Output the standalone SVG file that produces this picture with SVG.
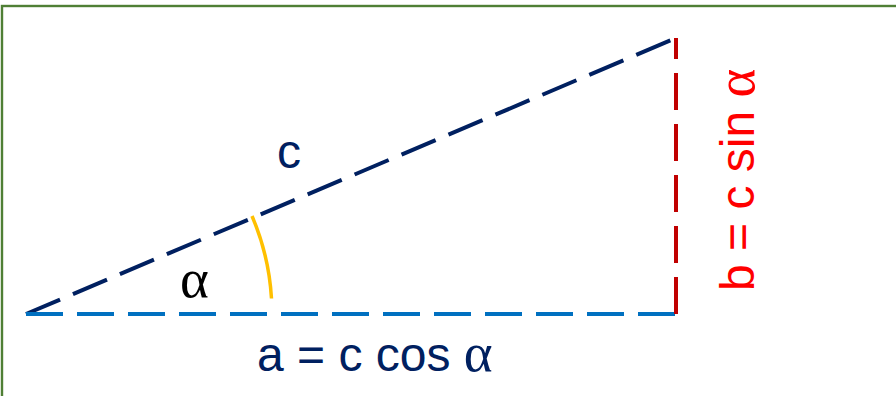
<svg xmlns="http://www.w3.org/2000/svg" width="896" height="396" viewBox="0 0 896 396">
  <style>
    .lbl { font-family: "Liberation Sans", Arial, sans-serif; font-size: 48px; }
    .greek { font-family: "Liberation Serif", "Times New Roman", serif; font-size: 55px; }
    .side { fill: none; stroke-width: 4; stroke-dasharray: 37 14; }
  </style>
  <rect id="frame" x="2" y="6" width="1000" height="1000" fill="#ffffff" stroke="#4f7f35" stroke-width="2.4"/>
  <g id="connectors">
    <path id="hypotenuse" class="side" d="M26,314 L676,38" stroke="#002060"/>
    <path id="base" class="side" d="M26,314 L676,314" stroke="#0070c0"/>
    <path id="height" class="side" d="M676,314 L676,38" stroke="#c00000"/>
    <path id="angle-arc" d="M252,216 A246.5 246.5 0 0 1 271.5,298.5" fill="none" stroke="#ffc000" stroke-width="3.5"/>
  </g>
  <g id="label-c">
    <text class="lbl" x="277" y="168" fill="#002060">c</text>
  </g>
  <g id="label-alpha">
    <text class="lbl greek" x="180" y="297" fill="#000000">α</text>
  </g>
  <g id="label-a">
    <text class="lbl" x="257" y="371" fill="#002060">a = c cos <tspan class="greek">α</tspan></text>
  </g>
  <g id="label-b">
    <text class="lbl" transform="translate(754,291) rotate(-90)" x="0" y="0" fill="#ff0000">b = c sin <tspan class="greek">α</tspan></text>
  </g>
</svg>
